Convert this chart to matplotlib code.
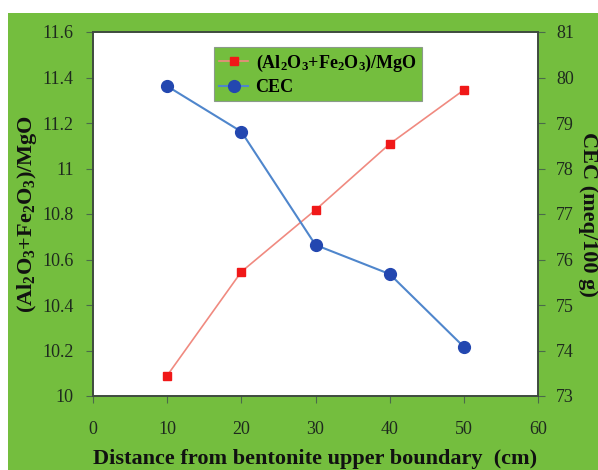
import matplotlib
matplotlib.use("Agg")
import matplotlib.pyplot as plt
from matplotlib.patches import Rectangle

plt.rcParams['font.family'] = ['Liberation Serif', 'DejaVu Serif']
plt.rcParams['mathtext.fontset'] = 'custom'
plt.rcParams['mathtext.rm'] = 'Liberation Serif:bold'
plt.rcParams['mathtext.it'] = 'Liberation Serif:bold'
plt.rcParams['mathtext.bf'] = 'Liberation Serif:bold'

distance = [10, 20, 30, 40, 50]
ratio = [10.09, 10.546, 10.818, 11.108, 11.345]
cec = [79.81, 78.81, 76.32, 75.68, 74.08]

ratio_label = r'(Al$_2$O$_3$+Fe$_2$O$_3$)/MgO'
cec_label = 'CEC'
xlabel = 'Distance from bentonite upper boundary  (cm)'
ylabel_left = r'(Al$_2$O$_3$+Fe$_2$O$_3$)/MgO'
ylabel_right = 'CEC (meq/100 g)'

green = '#74BE3E'
tick_col = '#1e2a1e'

fig = plt.figure(figsize=(5.98, 4.70), dpi=100, facecolor='white')
fig.patches.append(Rectangle((8/598, 0), 1 - 8/598, 1 - 13/470,
                             transform=fig.transFigure, facecolor=green,
                             edgecolor='none', zorder=-10))

ax = fig.add_axes([93/598, 1 - 396/470, 445/598, 364/470])
ax.set_facecolor('white')
ax2 = ax.twinx()

l1, = ax.plot(distance, ratio, color='#F08A80', lw=1.2, marker='s', ms=6,
              mfc='#F01818', mec='#F01818', label=ratio_label)
l2, = ax2.plot(distance, cec, color='#4F86CC', lw=1.5, marker='o', ms=8.5,
               mfc='#2347B0', mec='#2347B0', label=cec_label)

ax.set_xlim(0, 60)
ax.set_ylim(10, 11.6)
ax2.set_ylim(73, 81)
ax.set_xticks(range(0, 61, 10))
ax.set_yticks([10, 10.2, 10.4, 10.6, 10.8, 11, 11.2, 11.4, 11.6])
ax.set_yticklabels(['10', '10.2', '10.4', '10.6', '10.8', '11', '11.2', '11.4', '11.6'])
ax2.set_yticks(range(73, 82))

for a in (ax, ax2):
    a.tick_params(direction='out', length=5, width=0.8, colors='#4a6a4a',
                  labelcolor=tick_col, labelsize=13)
    for s in a.spines.values():
        s.set_color('#3e4a3e')
        s.set_linewidth(1.2)
ax.tick_params(axis='x', pad=13)
ax.tick_params(axis='y', pad=9)
ax2.tick_params(axis='y', pad=8)

ax.set_xlabel(xlabel, fontsize=16, fontweight='bold', color='#111111')
ax.xaxis.label.set_va('center')
ax.xaxis.set_label_coords(0.5, (396 - 459) / 364)
ax.set_ylabel(ylabel_left, fontsize=16, fontweight='bold', color='#111111')
ax.yaxis.label.set_va('center')
ax.yaxis.set_label_coords((27 - 93) / 445, 0.5)
ax2.set_ylabel(ylabel_right, fontsize=16, fontweight='bold', color='#111111',
               rotation=-90)
ax2.yaxis.label.set_va('center')
ax2.yaxis.set_label_coords((588 - 93) / 445, 0.5)

leg = ax2.legend(handles=[l1, l2], loc='upper left',
                 bbox_to_anchor=((214 - 93) / 445, (396 - 47) / 364),
                 borderaxespad=0,
                 facecolor=green, edgecolor='#8a9a8a', framealpha=1,
                 fancybox=False, prop={'weight': 'bold', 'size': 13},
                 borderpad=0.3, handlelength=1.6, handletextpad=0.4,
                 labelspacing=0.3)
leg.get_frame().set_linewidth(0.8)

fig.savefig('out.png', dpi=100, facecolor=fig.get_facecolor())
